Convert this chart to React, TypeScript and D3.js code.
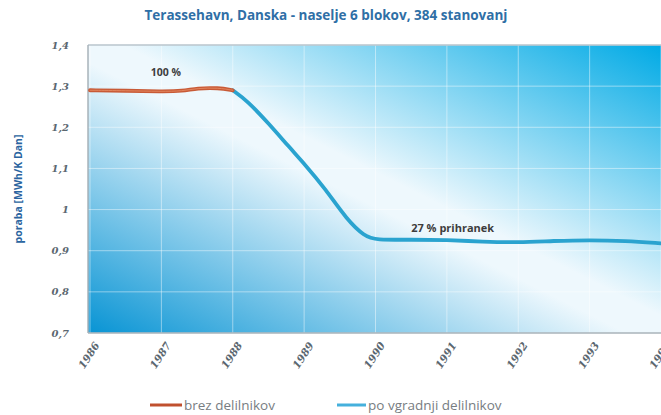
import React from "react";
import * as d3 from "d3";

const years = [1986, 1987, 1988, 1989, 1990, 1991, 1992, 1993, 1994];
const yTicks = [0.7, 0.8, 0.9, 1.0, 1.1, 1.2, 1.3, 1.4];
const redX = [1986.0, 1986.5, 1987.0, 1987.3, 1987.5, 1987.8, 1988.0];
const redY = [1.29, 1.289, 1.287, 1.288, 1.295, 1.296, 1.29];
const blueX = [1988.0, 1988.2, 1988.5, 1988.8, 1989.0, 1989.3, 1989.6, 1989.85, 1990.0, 1990.5, 1991.0, 1991.5, 1992.0, 1992.5, 1993.0, 1993.5, 1994.0];
const blueY = [1.29, 1.265, 1.21, 1.15, 1.112, 1.05, 0.975, 0.935, 0.926, 0.927, 0.926, 0.922, 0.92, 0.924, 0.926, 0.924, 0.918];

const W = 661, H = 415;
const left = 88, right = 661, top = 45, bottom = 333;

export default function App() {
  const x = d3.scaleLinear().domain([1986, 1994]).range([left + 2, right]);
  const y = d3.scaleLinear().domain([0.7, 1.4]).range([bottom, top]);
  const line = d3.line<[number, number]>().x(d => x(d[0])).y(d => y(d[1])).curve(d3.curveBasis);
  const red = redX.map((v, i) => [v, redY[i]] as [number, number]);
  const blue = blueX.map((v, i) => [v, blueY[i]] as [number, number]);
  const fmt = (v: number) => (Math.round(v * 10) % 10 === 0 ? String(Math.round(v)) : v.toFixed(1).replace(".", ","));
  return (
    <svg width={W} height={H} style={{ position: "absolute", left: 0, top: 0, background: "#fff" }}>
      <defs>
        <linearGradient id="bg" x1="0" y1="1" x2="1" y2="0">
          <stop offset="0" stopColor="#0894d4" />
          <stop offset="0.47" stopColor="#eef8fd" />
          <stop offset="0.53" stopColor="#eef8fd" />
          <stop offset="1" stopColor="#00aae5" />
        </linearGradient>
      </defs>
      <text x={326} y={20} textAnchor="middle" fontFamily="'Open Sans', sans-serif" fontWeight="bold" fontSize={13.5} fill="#2f6fa6">
        Terassehavn, Danska - naselje 6 blokov, 384 stanovanj
      </text>
      <rect x={left} y={top} width={right - left} height={bottom - top} fill="url(#bg)" />
      {yTicks.map(t => (
        <line key={"h" + t} x1={left} x2={right} y1={y(t)} y2={y(t)} stroke="#ffffff" strokeOpacity={0.45} strokeWidth={1} />
      ))}
      {years.map(t => (
        <line key={"v" + t} x1={x(t)} x2={x(t)} y1={top} y2={bottom} stroke="#ffffff" strokeOpacity={0.45} strokeWidth={1} />
      ))}
      <line x1={left} x2={right} y1={top} y2={top} stroke="#b8c4cc" strokeWidth={1.5} />
      <line x1={left} x2={right} y1={bottom} y2={bottom} stroke="#a9b3ba" strokeWidth={1.5} />
      <line x1={left} x2={left} y1={top} y2={bottom} stroke="#a9b3ba" strokeWidth={1.5} />
      {yTicks.map(t => (
        <text key={"yl" + t} x={left - 19} y={y(t) + 3.5} textAnchor="end" fontFamily="'DejaVu Serif', serif" fontStyle="italic" fontWeight="bold" fontSize={10} fill="#5b6770">
          {fmt(t)}
        </text>
      ))}
      {years.map(t => (
        <text key={"xl" + t} transform={`translate(${x(t) + 10},${bottom + 12}) rotate(-57)`} textAnchor="end" fontFamily="'DejaVu Serif', serif" fontStyle="italic" fontWeight="bold" fontSize={10.5} fill="#5b6770">
          {t}
        </text>
      ))}
      <text transform={`translate(22,${(top + bottom) / 2}) rotate(-90)`} textAnchor="middle" fontFamily="'Open Sans', sans-serif" fontWeight="bold" fontSize={10.5} fill="#2a64a0">
        poraba [MWh/K Dan]
      </text>
      <path d={line(blue) || ""} fill="none" stroke="#2aa3cf" strokeWidth={3.8} strokeLinecap="round" />
      <path d={line(red) || ""} fill="none" stroke="#c85a36" strokeWidth={3.8} strokeLinecap="round" />
      <path d={line(red) || ""} fill="none" stroke="#e8906a" strokeWidth={0.8} strokeLinecap="round" />
      <text x={x(1986.85)} y={y(1.325)} fontFamily="'Open Sans', sans-serif" fontWeight="bold" fontSize={10.5} fill="#3d3d3d">100 %</text>
      <text x={x(1990.5)} y={y(0.945)} fontFamily="'Open Sans', sans-serif" fontWeight="bold" fontSize={11} fill="#3d3d3d">27 % prihranek</text>
      <line x1={150} x2={182} y1={405} y2={405} stroke="#c0502e" strokeWidth={3} />
      <text x={184} y={410} fontFamily="'Open Sans', sans-serif" fontSize={13.5} fill="#777d82">brez delilnikov</text>
      <line x1={337} x2={366} y1={405} y2={405} stroke="#45b0dc" strokeWidth={3} />
      <text x={368} y={410} fontFamily="'Open Sans', sans-serif" fontSize={13.5} fill="#777d82">po vgradnji delilnikov</text>
    </svg>
  );
}
